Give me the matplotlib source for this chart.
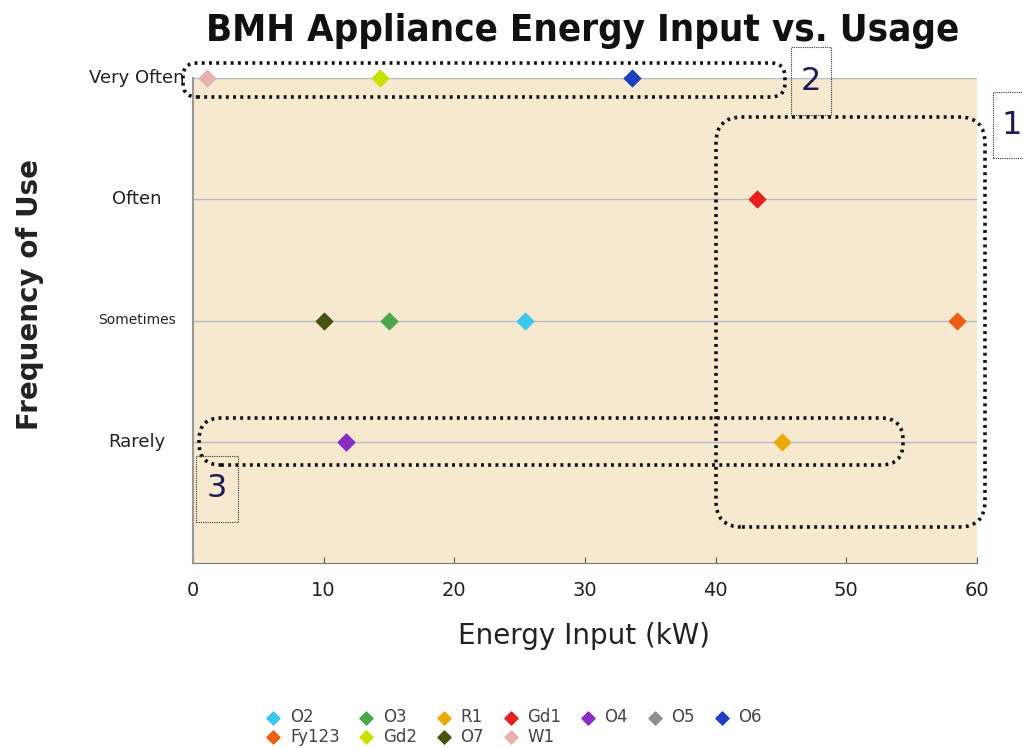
import numpy as np
import matplotlib.pyplot as plt
from matplotlib.patches import FancyBboxPatch, Rectangle
from matplotlib.transforms import IdentityTransform

# Data
freq_labels = ['Rarely', 'Sometimes', 'Often', 'Very Often']
appliances = ['O2', 'Fy123', 'O3', 'Gd2', 'R1', 'O7', 'Gd1', 'W1', 'O4', 'O5', 'O6']
energy_kw = [25.4, 58.5, 15.0, 14.3, 45.1, 10.0, 43.2, 1.1, 11.7, 11.7, 33.6]
frequency = [2, 2, 2, 4, 1, 2, 3, 4, 1, 1, 4]
colors = ['#3cc6f0', '#ee5e12', '#4aa84a', '#c8e000', '#eca90a', '#465410',
          '#e6201c', '#e8b0b0', '#8a2cc4', '#8e8e8e', '#1f3fc0']

W, H = 1023, 748
fig = plt.figure(figsize=(W / 100, H / 100), dpi=100)
ax = fig.add_axes([193 / W, 1 - 563 / H, (977 - 193) / W, (563 - 78) / H])
ax.set_facecolor('#f6e9cf')

for y in range(1, 5):
    ax.axhline(y, color='#b9b9c9', lw=1, zorder=1)

# O5 first so O4 sits on top of it
order = [9] + [i for i in range(len(appliances)) if i != 9]
handles = {}
for i in order:
    h = ax.scatter(energy_kw[i], frequency[i], marker='D', s=70, color=colors[i],
                   zorder=3, clip_on=False, label=appliances[i])
    handles[appliances[i]] = h

ax.set_xlim(0, 60)
ax.set_ylim(0, 4)
ax.set_xticks(np.arange(0, 61, 10))
ax.set_yticks([1, 2, 3, 4])
ax.set_yticklabels([])
# category labels, centred in the left margin
for k, lbl in enumerate(freq_labels):
    fs = 10 if lbl == 'Sometimes' else 13
    ax.text(-0.072, k + 1, lbl, transform=ax.get_yaxis_transform(), ha='center',
            va='center', fontsize=fs, color='#222222')
ax.tick_params(axis='x', direction='in', length=4, labelsize=14, pad=13, colors='#555555',
               labelcolor='#222222')
ax.tick_params(axis='y', length=0)
ax.spines['top'].set_visible(False)
ax.spines['right'].set_visible(False)
ax.spines['left'].set_color('#999999')
ax.spines['left'].set_linewidth(1.5)
ax.spines['bottom'].set_color('#777777')

fig.text(583 / W, 1 - 31 / H, 'BMH Appliance Energy Input vs. Usage', ha='center', va='center',
         fontsize=27.5, fontweight='bold', fontstretch='condensed', color='#111111')
fig.text(584 / W, 1 - 636 / H, 'Energy Input (kW)', ha='center', va='center', fontsize=20,
         color='#222222')
fig.text(30 / W, 1 - 295 / H, 'Frequency of Use', ha='center', va='center', rotation=90,
         fontsize=20, fontweight='bold', color='#222222')

leg = fig.legend([handles[a] for a in appliances], appliances, ncol=7,
                 loc='upper left', bbox_to_anchor=(250 / W, 1 - 693 / H), frameon=False,
                 fontsize=12, handletextpad=0.5, columnspacing=1.1, labelspacing=0.1,
                 handlelength=1.0, markerscale=0.8)
for t in leg.get_texts():
    t.set_color('#444444')

# dotted rounded callout boxes, in pixel coords
def rbox(x0, y0, x1, y1, r):
    p = FancyBboxPatch((x0 + r, H - y1 + r), (x1 - x0) - 2 * r, (y1 - y0) - 2 * r,
                       boxstyle='round,pad=%g,rounding_size=%g' % (r, r),
                       transform=IdentityTransform(), fill=False, ec='#111111',
                       lw=2.6, ls=(0, (0.8, 1.2)), zorder=5)
    fig.patches.append(p)

rbox(716, 117, 985, 527, 26)
rbox(183, 63, 785, 97, 14)
rbox(199, 418, 903, 465, 22)

def tag(x0, y0, x1, y1, txt):
    p = Rectangle((x0, H - y1), x1 - x0, y1 - y0, transform=IdentityTransform(), fill=False,
                  ec='#333333', lw=0.8, ls=(0, (1, 1)), zorder=5)
    fig.patches.append(p)
    fig.text((x0 + x1) / 2 / W, 1 - (y0 + y1) / 2 / H, txt, ha='center', va='center',
             fontsize=23, color='#1c1c55')

tag(993, 92, 1030, 158, '1')
tag(791, 47, 831, 115, '2')
tag(196, 456, 238, 522, '3')

fig.savefig('out.png', dpi=100)
